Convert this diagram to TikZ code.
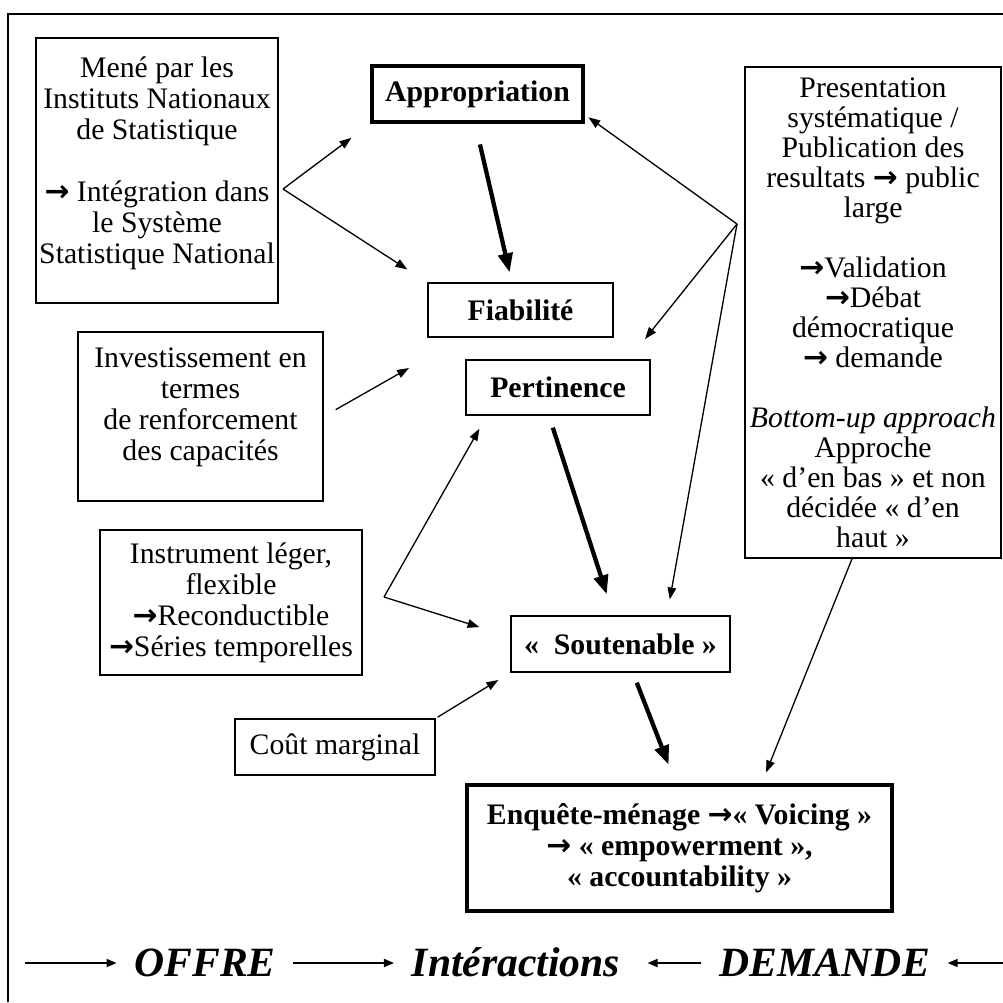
\documentclass[tikz,border=0pt]{standalone}
\usepackage{fontspec}
\setmainfont{Liberation Serif}
\newfontfamily\arrowfont{DejaVu Sans}
\newcommand{\fl}{{\arrowfont\bfseries →}}
\usetikzlibrary{arrows.meta}

\begin{document}
\begin{tikzpicture}[x=0.42pt,y=-0.42pt,
  dims/.style 2 args={minimum width=#1*0.42pt,minimum height=#2*0.42pt},
  box/.style={draw,line width=0.55pt,inner sep=0pt,align=center,font=\fontsize{12.5}{13}\selectfont},
  keybox/.style={box,font=\fontsize{12.5}{13}\selectfont\bfseries},
  link/.style={line width=0.55pt,-{Triangle[length=5pt,width=3.6pt]}},
  mainlink/.style={line width=1.8pt,-{Triangle[length=8pt,width=6pt]}},
  flow/.style={line width=0.65pt,-{Triangle[length=4.2pt,width=3.4pt]}},
  word/.style={inner sep=0pt,outer sep=7.5pt,text height=11.5pt,text depth=0pt,font=\fontsize{17.5}{20}\selectfont\bfseries\itshape}]
\useasboundingbox (0,0) rectangle (1003,1002);
% cadre
\draw[line width=0.9pt] (8,1002) -- (8,14) -- (1003,14);

% colonne gauche
\node[box,dims={242}{265}] (mene) at (157,170.5) {Mené par les\\Instituts Nationaux\\de Statistique\\[13pt]\fl{} Intégration dans\\le Système\\Statistique National\\[-4pt]\mbox{}};
\node[box,dims={245}{169}] (invest) at (200.5,416.5) {Investissement en\\termes\\de renforcement\\des capacités\\[-2.5pt]\mbox{}};
\node[box,dims={262}{145}] (instr) at (231,602.5) {Instrument léger,\\flexible\\\fl Reconductible\\\fl Séries temporelles};
\node[box,dims={200}{56}] (cout) at (335,747) {Coût marginal};

% centre
\node[keybox,line width=1.3pt,dims={211}{56}] (approp) at (477.5,94) {Appropriation};
\node[keybox,dims={185}{54}] (fiab) at (520.5,310) {Fiabilité};
\node[keybox,dims={184}{55}] (pert) at (558,387.5) {Pertinence};
\node[keybox,dims={219}{56}] (sout) at (620.5,644) {«\ \ Soutenable\ »};
\node[keybox,line width=1.3pt,dims={425}{126}] (enq) at (679.5,848) {Enquête-ménage \fl«~Voicing~»\\\fl{} «~empowerment~»,\\«~accountability~»};

% colonne droite
\node[box,dims={256}{491},font=\fontsize{12.5}{12.6}\selectfont] (publ) at (873,312.5) {Presentation\\systématique /\\Publication des\\resultats \fl{} public\\large\\[12.6pt]\fl Validation\\\fl Débat\\démocratique\\\fl{} demande\\[12.6pt]\textit{Bottom-up approach}\\Approche\\« d’en bas » et non\\décidée « d’en\\haut »};

% fleches
\coordinate (meneout) at (283,189);
\coordinate (instrout) at (384,597);
\coordinate (publout) at (737,224);
\coordinate (investtip) at (409,368);
\coordinate (publtip) at (645,339);
\draw[link,shorten >=10pt] (meneout) -- (approp.south west);
\draw[link,shorten >=10pt] (meneout) -- (fiab.north west);
\draw[mainlink,shorten <=9pt,shorten >=4.3pt] ([xshift=-1pt]approp.south) -- ([xshift=-3.6pt]fiab.north);
\draw[link,shorten <=5.8pt] (invest.east) -- (investtip);
\draw[link,shorten >=6.3pt] (instrout) -- ([xshift=9pt]pert.south west);
\draw[link,shorten >=13.6pt] (instrout) -- ([yshift=3pt]sout.west);
\draw[mainlink,shorten <=5.3pt,shorten >=9.3pt] ([xshift=-3.8pt]pert.south) -- ([xshift=-2.9pt]sout.north);
\draw[link,shorten >=2pt] (publout) -- ([yshift=3.8pt]approp.south east);
\draw[link] (publout) -- (publtip);
\draw[link,shorten >=6.8pt] (publout) -- ([xshift=19.5pt]sout.north);
\draw[link,shorten <=1pt,shorten >=5.9pt] (cout.north east) -- (sout.south west);
\draw[mainlink,shorten <=4.5pt,shorten >=8.5pt] ([xshift=5.2pt]sout.south) -- ([xshift=-1.5pt]enq.north);
\draw[link,shorten >=5pt] ([xshift=-8.8pt]publ.south) -- ([xshift=34.5pt]enq.north);

% ligne du bas
\node[word] (offre) at (205,963) {OFFRE};
\node[word] (interact) at (516,963) {Intéractions};
\node[word] (demande) at (824.5,963) {DEMANDE};
\coordinate (leftend) at (25,963);
\coordinate (rightend) at (1010,963);
\draw[flow] (leftend) -- (offre.west);
\draw[flow] (offre.east) -- (interact.west);
\draw[flow,shorten >=4pt] (demande.west) -- (interact.east);
\draw[flow] (rightend) -- (demande.east);
\end{tikzpicture}
\end{document}
